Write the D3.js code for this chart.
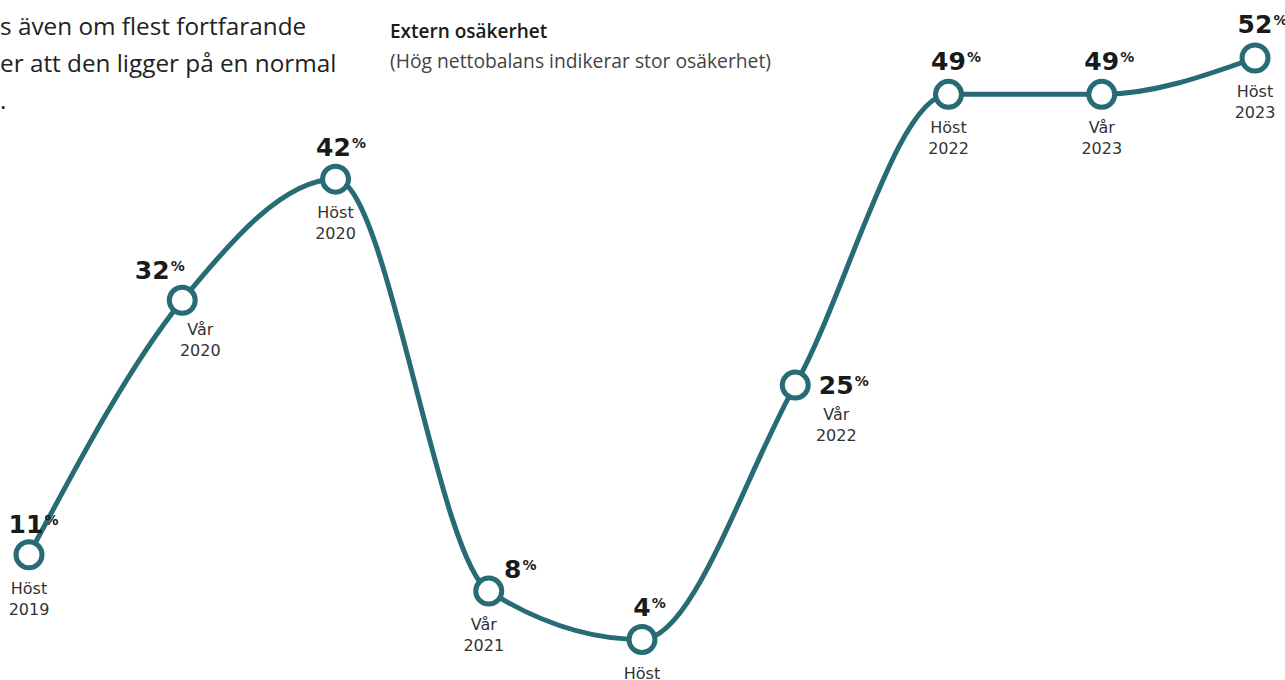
<!DOCTYPE html>
<html>
<head>
<meta charset="utf-8">
<script src="https://cdn.jsdelivr.net/npm/d3@7"></script>
<style>
  body { margin: 0; background: #fff; }
  svg { display: block; }
  text { font-family: "Open Sans", "DejaVu Sans", sans-serif; }
</style>
</head>
<body>
<div id="chart"></div>
<script>
// data
var seasons = ["Höst", "Vår", "Höst", "Vår", "Höst", "Vår", "Höst", "Vår", "Höst"];
var years = ["2019", "2020", "2020", "2021", "2021", "2022", "2022", "2023", "2023"];
var values = [11, 32, 42, 8, 4, 25, 49, 49, 52];

var introLines = ["s även om flest fortfarande", "er att den ligger på en normal", "."];
var title = "Extern osäkerhet";
var subtitle = "(Hög nettobalans indikerar stor osäkerhet)";

// label placement (value dx/dy, period dx) per point
var valueOffsets = [[-3, -22], [-30, -21], [-2, -23], [24, -13], [0, -24], [41, 9], [0, -24], [0, -24], [0, -25]];
var periodOffsets = [0, 18, 0, -5, 0, 41, 0, 0, 0];

var width = 1285, height = 680;
var teal = "#276b74";

var svg = d3.select("#chart").append("svg")
  .attr("width", width)
  .attr("height", height);

var keys = values.map(function(d, i) { return i; });

var x = d3.scalePoint()
  .domain(keys)
  .range([29, 1255]);

var y = d3.scaleLinear()
  .domain([0, 52])
  .range([688, 58]);

// intro text (cut off on the left)
svg.selectAll(".intro")
  .data(introLines)
  .enter().append("text")
  .attr("class", "intro")
  .attr("x", 0)
  .attr("y", function(d, i) { return 35 + i * 37; })
  .style("font-size", "24.3px")
  .style("fill", "#222")
  .text(function(d) { return d; });

svg.append("text")
  .attr("x", 390)
  .attr("y", 38)
  .style("font-size", "19px")
  .style("font-weight", "600")
  .style("fill", "#1a1a1a")
  .text(title);

svg.append("text")
  .attr("x", 390)
  .attr("y", 68)
  .style("font-size", "19.3px")
  .style("fill", "#444")
  .text(subtitle);

var line = d3.line()
  .x(function(d, i) { return x(i); })
  .y(function(d) { return y(d); })
  .curve(d3.curveMonotoneX);

svg.append("path")
  .datum(values)
  .attr("d", line)
  .style("fill", "none")
  .style("stroke", teal)
  .style("stroke-width", 5);

var pt = svg.selectAll(".pt")
  .data(values)
  .enter().append("g")
  .attr("class", "pt")
  .attr("transform", function(d, i) { return "translate(" + x(i) + "," + y(d) + ")"; });

pt.append("circle")
  .attr("r", 13)
  .style("fill", "#fff")
  .style("stroke", teal)
  .style("stroke-width", 5);

// value label: number centred, % as superscript after it
var val = pt.append("text")
  .attr("x", function(d, i) { return valueOffsets[i][0]; })
  .attr("y", function(d, i) { return valueOffsets[i][1]; })
  .attr("text-anchor", "middle")
  .style("font-family", "'DejaVu Sans', sans-serif")
  .style("font-size", "25px")
  .style("font-weight", "700")
  .style("fill", "#1a1a1a");

val.append("tspan").text(function(d) { return d; });
val.append("tspan")
  .attr("dx", 1)
  .attr("dy", -8)
  .style("font-size", "14px")
  .text("%");

// re-centre on the number only
val.each(function(d, i) {
  var num = this.firstChild.getComputedTextLength();
  var full = this.getComputedTextLength() + 1;
  d3.select(this).attr("x", valueOffsets[i][0] + (full - num) / 2);
});

// period labels, two lines
function periodLine(texts, dy) {
  pt.append("text")
    .attr("x", function(d, i) { return periodOffsets[i]; })
    .attr("y", function(d, i) { return ((i === 1 || i === 5) ? 35 : 39) + dy; })
    .attr("text-anchor", "middle")
    .style("font-family", "'DejaVu Sans', sans-serif")
    .style("font-size", "16px")
    .style("fill", "#333")
    .text(function(d, i) { return texts[i]; });
}
periodLine(seasons, 0);
periodLine(years, 21);
</script>
</body>
</html>
